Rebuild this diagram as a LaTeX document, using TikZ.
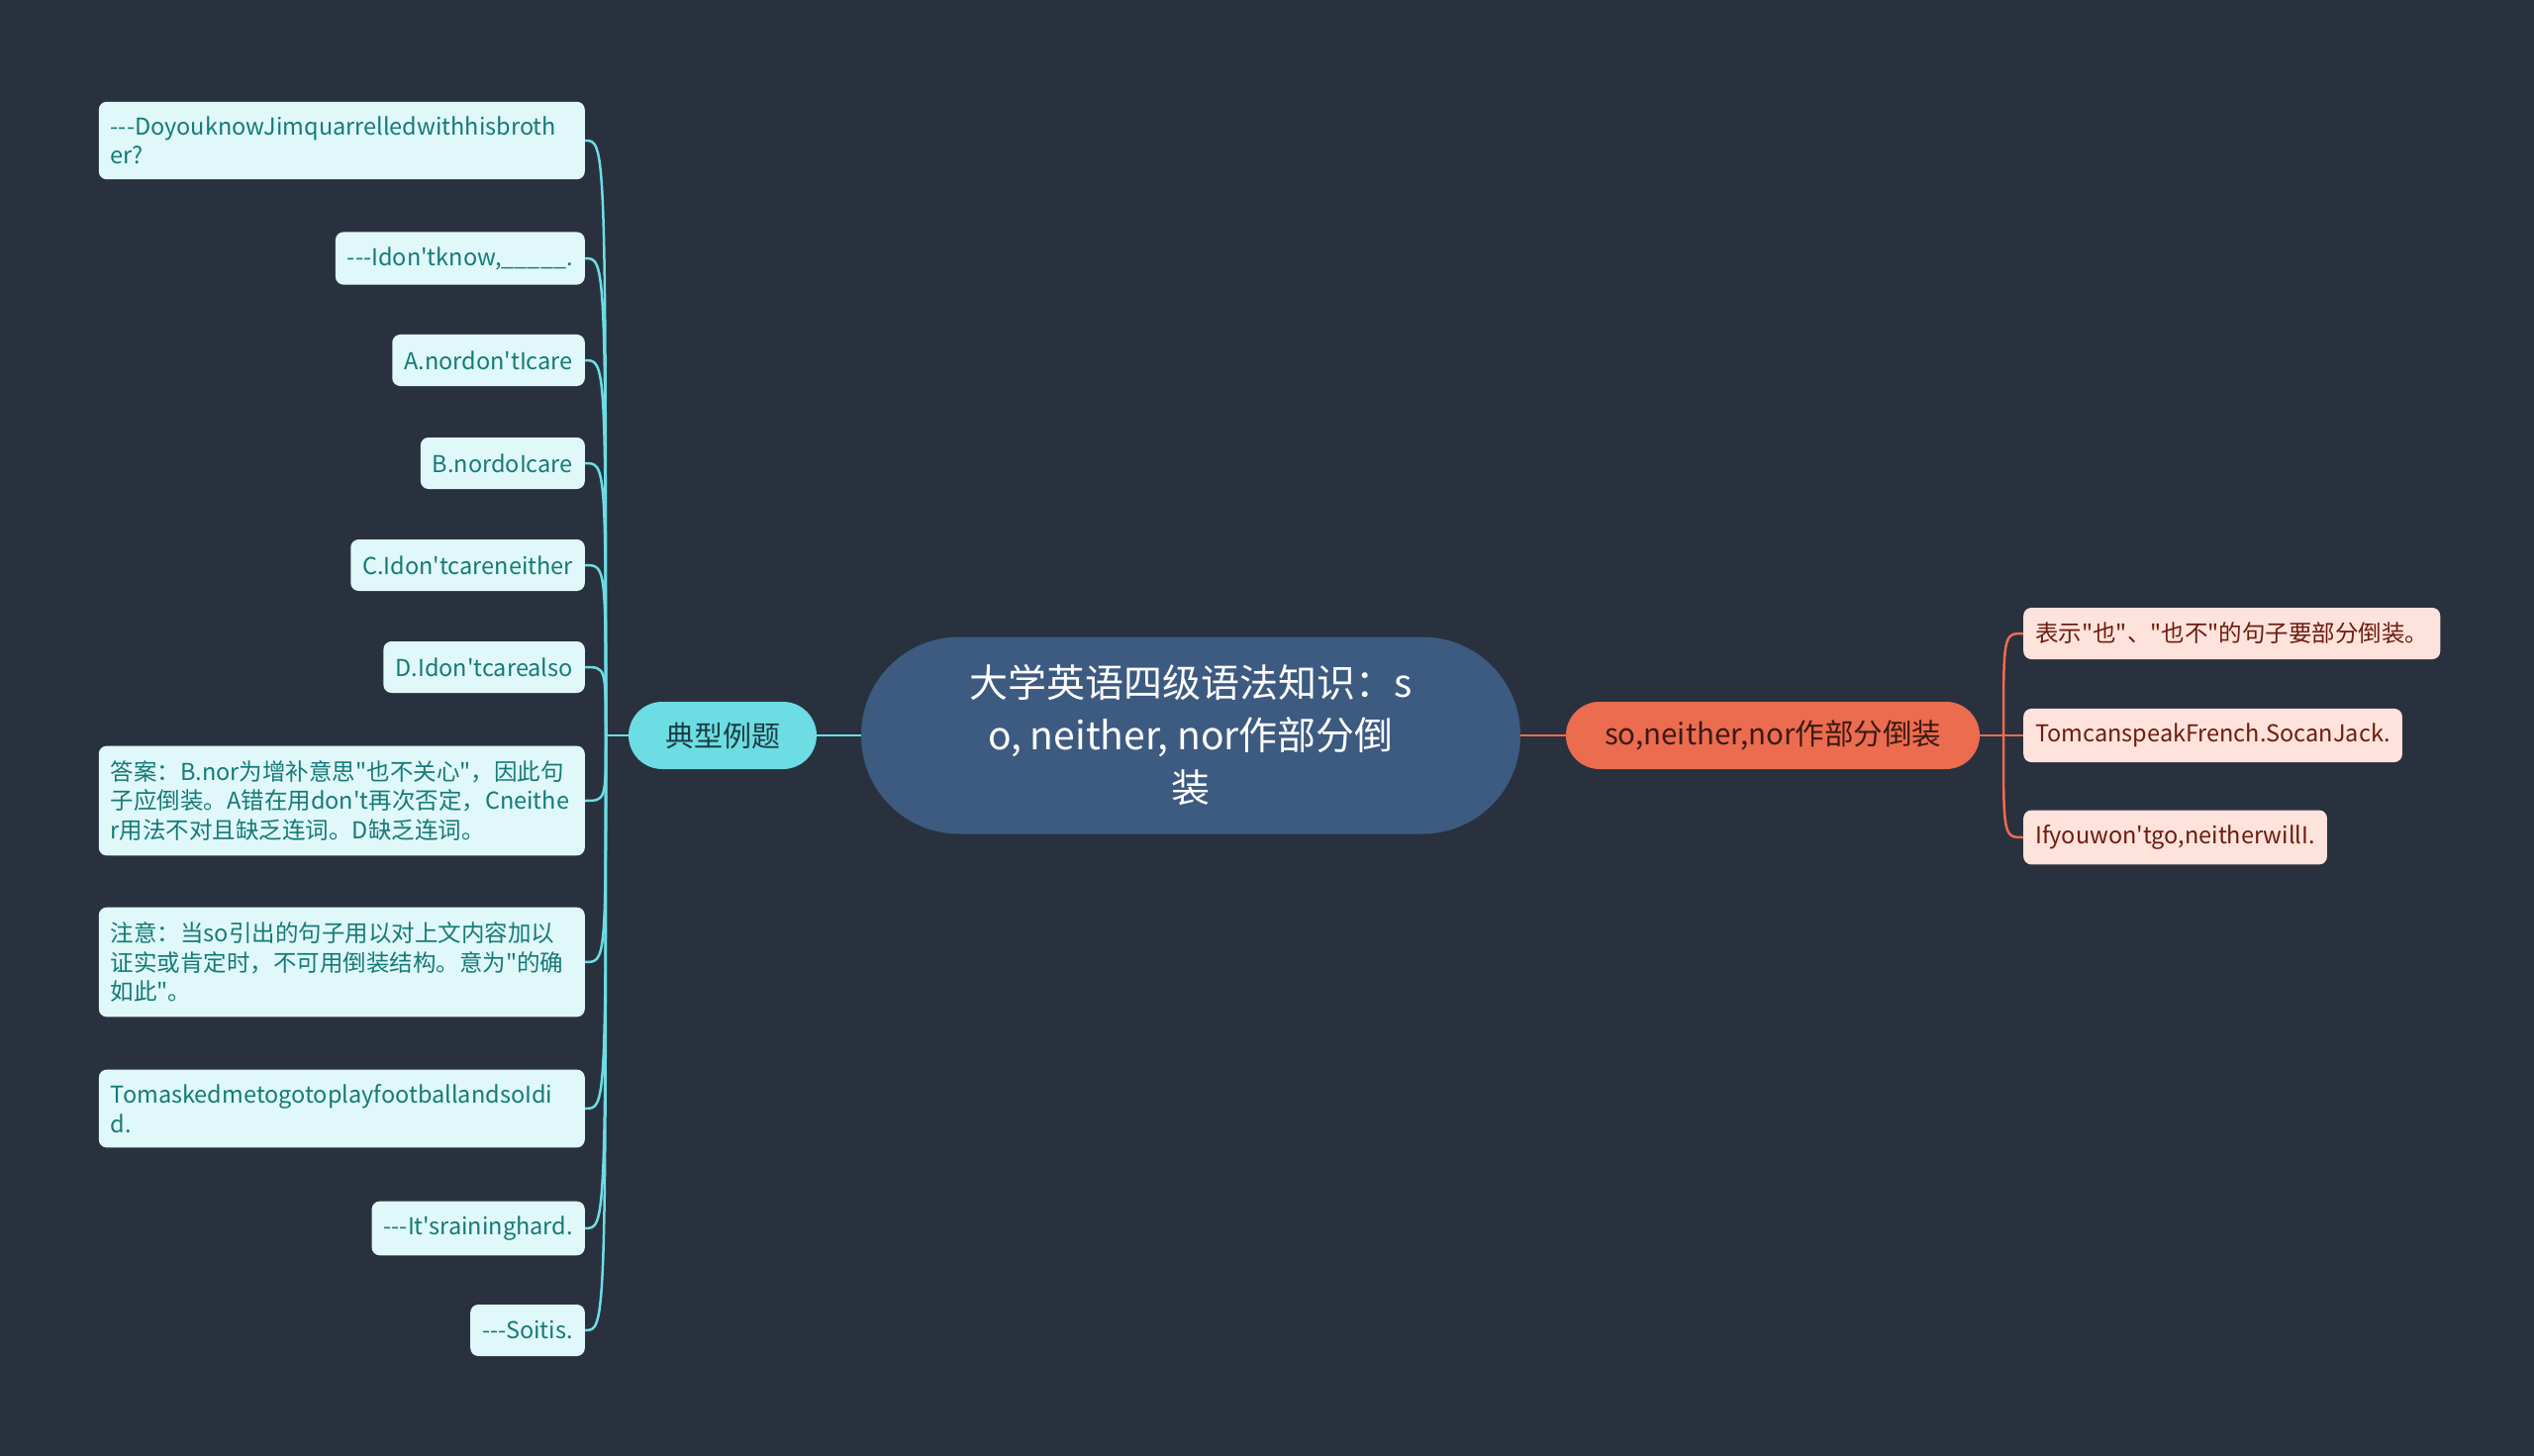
\documentclass[tikz,border=0pt]{standalone}
\usepackage{fontspec}
\newfontfamily\cjk[Ligatures=TeXOff]{Noto Sans CJK SC}
\definecolor{bgcol}{HTML}{29313F}
\definecolor{rootcol}{HTML}{3D5A80}
\definecolor{cyancol}{HTML}{6CDDE3}
\definecolor{subltext}{HTML}{1E3C44}
\definecolor{leaflcol}{HTML}{E0F8F9}
\definecolor{leafltext}{HTML}{157A78}
\definecolor{orangecol}{HTML}{EC6C4F}
\definecolor{subrtext}{HTML}{3B1A12}
\definecolor{leafrcol}{HTML}{FDE3DB}
\definecolor{leafrtext}{HTML}{6E1B0E}
\begin{document}
\begin{tikzpicture}[
  x=1pt, y=-1pt,
  every node/.style={font=\cjk},
  rootbox/.style={fill=rootcol, text=white, rounded corners=99pt, minimum width=666pt,
    minimum height=199pt, align=center, font=\cjk\fontsize{39}{53}\selectfont},
  subl/.style={fill=cyancol, text=subltext, rounded corners=34pt, minimum width=190pt,
    minimum height=68pt, font=\cjk\fontsize{29}{35}\selectfont},
  subr/.style={fill=orangecol, text=subrtext, rounded corners=34pt, minimum width=418pt,
    minimum height=68pt, font=\cjk\fontsize{29.5}{35}\selectfont},
  leafl/.style={fill=leaflcol, text=leafltext, rounded corners=8pt, inner xsep=12pt,
    inner ysep=15pt, minimum height=52pt, align=left, anchor=east,
    font=\cjk\fontsize{23.5}{29.4}\selectfont},
  wide/.style={text width=467pt},
  leafr/.style={fill=leafrcol, text=leafrtext, rounded corners=8pt, inner xsep=12pt,
    inner ysep=15pt, minimum height=52pt, align=left, anchor=west,
    font=\cjk\fontsize{23.5}{29.4}\selectfont},
  linkl/.style={draw=cyancol, line width=2.5pt},
  linkr/.style={draw=orangecol, line width=2.5pt}
]
\fill[bgcol] (0,0) rectangle (2560,1471);
\useasboundingbox (0,0) rectangle (2560,1471);

% centre and the two branches
\node[rootbox] (root) at (1203,743) {大学英语四级语法知识：s\\o, neither, nor作部分倒\\装};
\node[subl] (ex) at (730,743) {典型例题};
\node[subr] (inv) at (1791,743) {so,neither,nor作部分倒装};

\draw[linkl] (root.west) -- (ex.east);
\draw[linkr] (root.east) -- (inv.west);

% left leaves
\node[leafl, wide] (q1) at (591,142) {---DoyouknowJimquarrelledwithhisbroth\\er?};
\node[leafl] (q2) at (591,261) {---Idon'tknow,\_\_\_\_\_.};
\node[leafl] (q3) at (591,364) {A.nordon'tIcare};
\node[leafl] (q4) at (591,468) {B.nordoIcare};
\node[leafl] (q5) at (591,571) {C.Idon'tcareneither};
\node[leafl] (q6) at (591,674) {D.Idon'tcarealso};
\node[leafl, wide] (q7) at (591,809) {答案：B.nor为增补意思"也不关心"，因此句\\子应倒装。A错在用don't再次否定，Cneithe\\r用法不对且缺乏连词。D缺乏连词。};
\node[leafl, wide] (q8) at (591,972) {注意：当so引出的句子用以对上文内容加以\\证实或肯定时，不可用倒装结构。意为"的确\\如此"。};
\node[leafl, wide] (q9) at (591,1120) {TomaskedmetogotoplayfootballandsoIdi\\d.};
\node[leafl] (q10) at (591,1241) {---It'sraininghard.};
\node[leafl] (q11) at (591,1344) {---Soitis.};

% right leaves
\node[leafr] (r1) at (2044,640) {表示"也"、"也不"的句子要部分倒装。};
\node[leafr] (r2) at (2044,743) {TomcanspeakFrench.SocanJack.};
\node[leafr] (r3) at (2044,846) {Ifyouwon'tgo,neitherwillI.};

% connectors
\coordinate (jl) at (612,743);
\coordinate (jr) at (2024,743);
\draw[linkl] (ex.west) -- (jl);
\draw[linkr] (inv.east) -- (jr);
\foreach \n in {q1,q2,q3,q4,q5,q6,q7,q8,q9,q10,q11}
  \draw[linkl] (jl) .. controls (jl |- \n.east) and (jl |- \n.east) .. (\n.east);
\foreach \n in {r1,r2,r3}
  \draw[linkr] (jr) .. controls (jr |- \n.west) and (jr |- \n.west) .. (\n.west);
\end{tikzpicture}
\end{document}
